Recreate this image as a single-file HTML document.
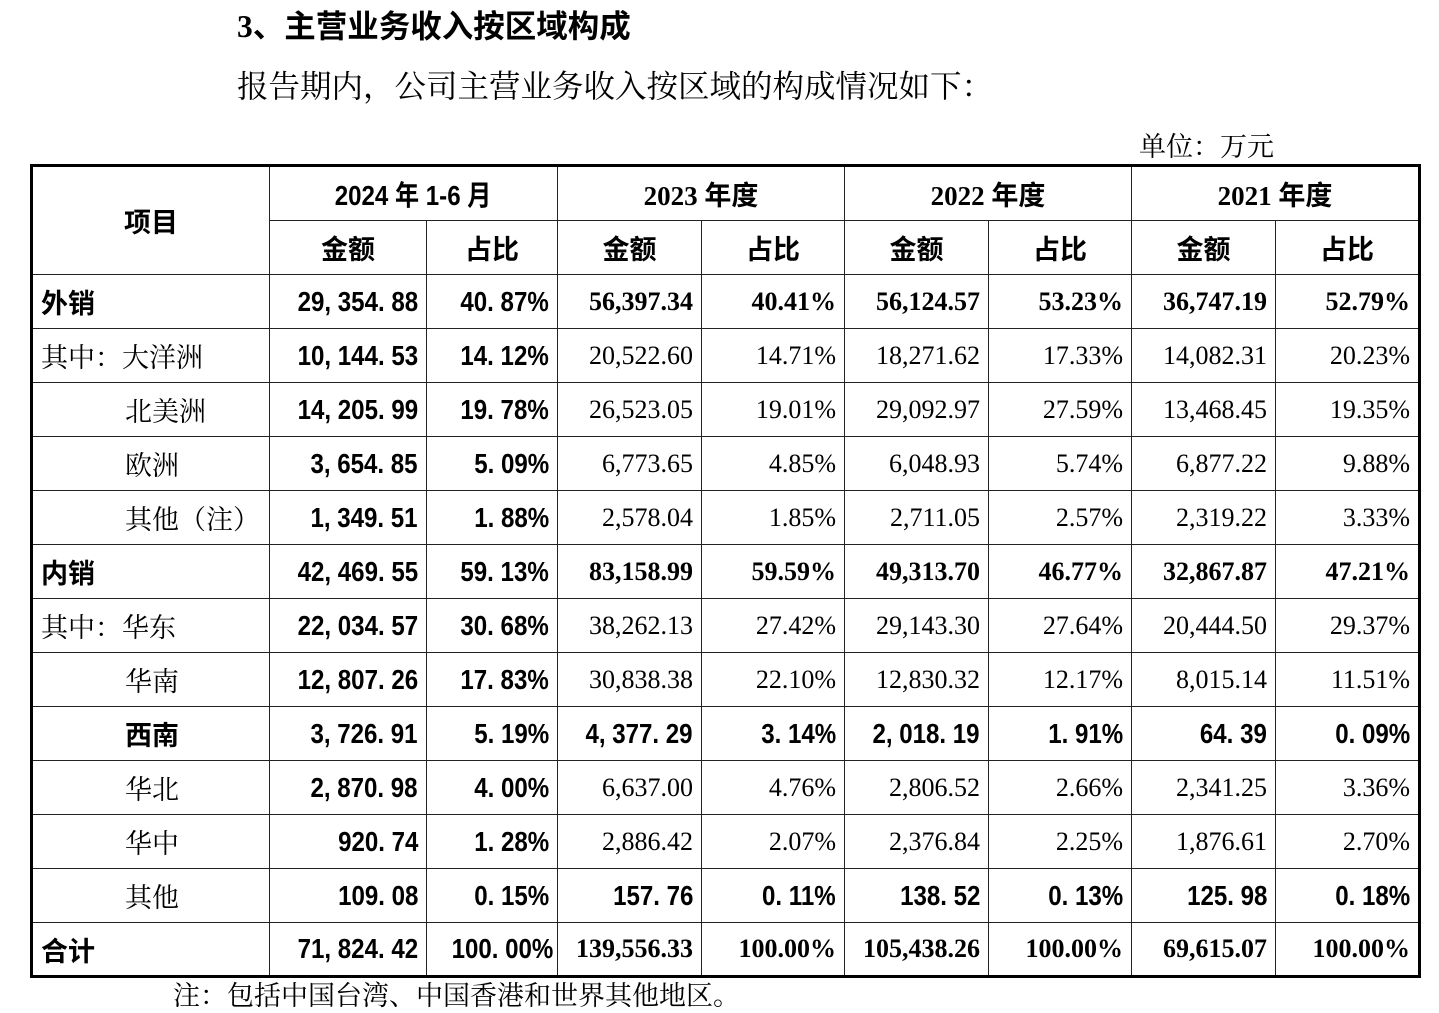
<!DOCTYPE html>
<html><head><meta charset="utf-8"><style>
body{margin:0;width:1439px;height:1012px;background:#fff;position:relative;overflow:hidden;font-family:"Liberation Serif","Noto Serif CJK SC",serif;color:#000}
.t1{position:absolute;left:237px;top:4px;font-size:31.5px;font-weight:bold;font-family:"Noto Sans CJK SC",sans-serif;line-height:40px}
.t1 b{font-family:"Liberation Serif",serif}
.t2{position:absolute;left:237px;top:65px;font-size:31.5px;font-family:"Noto Serif CJK SC",serif;line-height:40px}
.unit{position:absolute;left:1139px;top:127px;font-size:27px;font-family:"Noto Serif CJK SC",serif;line-height:36px}
.note{position:absolute;left:173px;top:976px;font-size:27px;font-family:"Noto Serif CJK SC",serif;line-height:36px}
table{position:absolute;left:30px;top:164px;width:1389px;border-collapse:collapse;border:3px solid #000;table-layout:fixed}
td{border:1px solid #222;height:54px;padding:0 8px;font-size:26px;white-space:nowrap;text-align:right;box-sizing:border-box;overflow:visible}
.h td{text-align:center;font-weight:bold;font-family:"Liberation Serif","Noto Sans CJK SC",sans-serif;font-size:27px}
td.s{font-family:"Liberation Sans","Noto Sans CJK SC",sans-serif;font-weight:bold;font-size:28px}
td.s span{display:inline-block;transform:scaleX(0.86);transform-origin:right center}
tr.b td{font-weight:bold}
td.f{text-align:left;font-family:"Noto Serif CJK SC",serif;font-size:27px}
td.fb{text-align:left;font-family:"Noto Sans CJK SC",sans-serif;font-weight:bold;font-size:27px}
td.i{padding-left:92px}
</style></head><body>
<div class="t1"><b>3</b>、主营业务收入按区域构成</div>
<div class="t2">报告期内，公司主营业务收入按区域的构成情况如下：</div>
<div class="unit">单位：万元</div>
<table>
<colgroup><col style="width:238px"><col style="width:157px"><col style="width:131px"><col style="width:144px"><col style="width:143px"><col style="width:144px"><col style="width:143px"><col style="width:144px"><col style="width:144px"></colgroup>
<tr class="h" style="height:55px"><td rowspan="2" style="font-family:'Noto Sans CJK SC',sans-serif">项目</td><td colspan="2" class="s" style="text-align:center"><span style="transform-origin:center">2024 年 1-6 月</span></td><td colspan="2">2023 年度</td><td colspan="2">2022 年度</td><td colspan="2">2021 年度</td></tr>
<tr class="h"><td>金额</td><td>占比</td><td>金额</td><td>占比</td><td>金额</td><td>占比</td><td>金额</td><td>占比</td></tr>
<tr class="b"><td class="fb">外销</td><td class="s"><span>29, 354. 88</span></td><td class="s"><span>40. 87%</span></td><td>56,397.34</td><td>40.41%</td><td>56,124.57</td><td>53.23%</td><td>36,747.19</td><td>52.79%</td></tr>
<tr><td class="f">其中：大洋洲</td><td class="s"><span>10, 144. 53</span></td><td class="s"><span>14. 12%</span></td><td>20,522.60</td><td>14.71%</td><td>18,271.62</td><td>17.33%</td><td>14,082.31</td><td>20.23%</td></tr>
<tr><td class="f i">北美洲</td><td class="s"><span>14, 205. 99</span></td><td class="s"><span>19. 78%</span></td><td>26,523.05</td><td>19.01%</td><td>29,092.97</td><td>27.59%</td><td>13,468.45</td><td>19.35%</td></tr>
<tr><td class="f i">欧洲</td><td class="s"><span>3, 654. 85</span></td><td class="s"><span>5. 09%</span></td><td>6,773.65</td><td>4.85%</td><td>6,048.93</td><td>5.74%</td><td>6,877.22</td><td>9.88%</td></tr>
<tr><td class="f i">其他（注）</td><td class="s"><span>1, 349. 51</span></td><td class="s"><span>1. 88%</span></td><td>2,578.04</td><td>1.85%</td><td>2,711.05</td><td>2.57%</td><td>2,319.22</td><td>3.33%</td></tr>
<tr class="b"><td class="fb">内销</td><td class="s"><span>42, 469. 55</span></td><td class="s"><span>59. 13%</span></td><td>83,158.99</td><td>59.59%</td><td>49,313.70</td><td>46.77%</td><td>32,867.87</td><td>47.21%</td></tr>
<tr><td class="f">其中：华东</td><td class="s"><span>22, 034. 57</span></td><td class="s"><span>30. 68%</span></td><td>38,262.13</td><td>27.42%</td><td>29,143.30</td><td>27.64%</td><td>20,444.50</td><td>29.37%</td></tr>
<tr><td class="f i">华南</td><td class="s"><span>12, 807. 26</span></td><td class="s"><span>17. 83%</span></td><td>30,838.38</td><td>22.10%</td><td>12,830.32</td><td>12.17%</td><td>8,015.14</td><td>11.51%</td></tr>
<tr><td class="fb i">西南</td><td class="s"><span>3, 726. 91</span></td><td class="s"><span>5. 19%</span></td><td class="s"><span>4, 377. 29</span></td><td class="s"><span>3. 14%</span></td><td class="s"><span>2, 018. 19</span></td><td class="s"><span>1. 91%</span></td><td class="s"><span>64. 39</span></td><td class="s"><span>0. 09%</span></td></tr>
<tr><td class="f i">华北</td><td class="s"><span>2, 870. 98</span></td><td class="s"><span>4. 00%</span></td><td>6,637.00</td><td>4.76%</td><td>2,806.52</td><td>2.66%</td><td>2,341.25</td><td>3.36%</td></tr>
<tr><td class="f i">华中</td><td class="s"><span>920. 74</span></td><td class="s"><span>1. 28%</span></td><td>2,886.42</td><td>2.07%</td><td>2,376.84</td><td>2.25%</td><td>1,876.61</td><td>2.70%</td></tr>
<tr><td class="f i">其他</td><td class="s"><span>109. 08</span></td><td class="s"><span>0. 15%</span></td><td class="s"><span>157. 76</span></td><td class="s"><span>0. 11%</span></td><td class="s"><span>138. 52</span></td><td class="s"><span>0. 13%</span></td><td class="s"><span>125. 98</span></td><td class="s"><span>0. 18%</span></td></tr>
<tr class="b"><td class="fb">合计</td><td class="s"><span>71, 824. 42</span></td><td class="s"><span>100. 00%</span></td><td>139,556.33</td><td>100.00%</td><td>105,438.26</td><td>100.00%</td><td>69,615.07</td><td>100.00%</td></tr>
</table>
<div class="note">注：包括中国台湾、中国香港和世界其他地区。</div>
</body></html>
